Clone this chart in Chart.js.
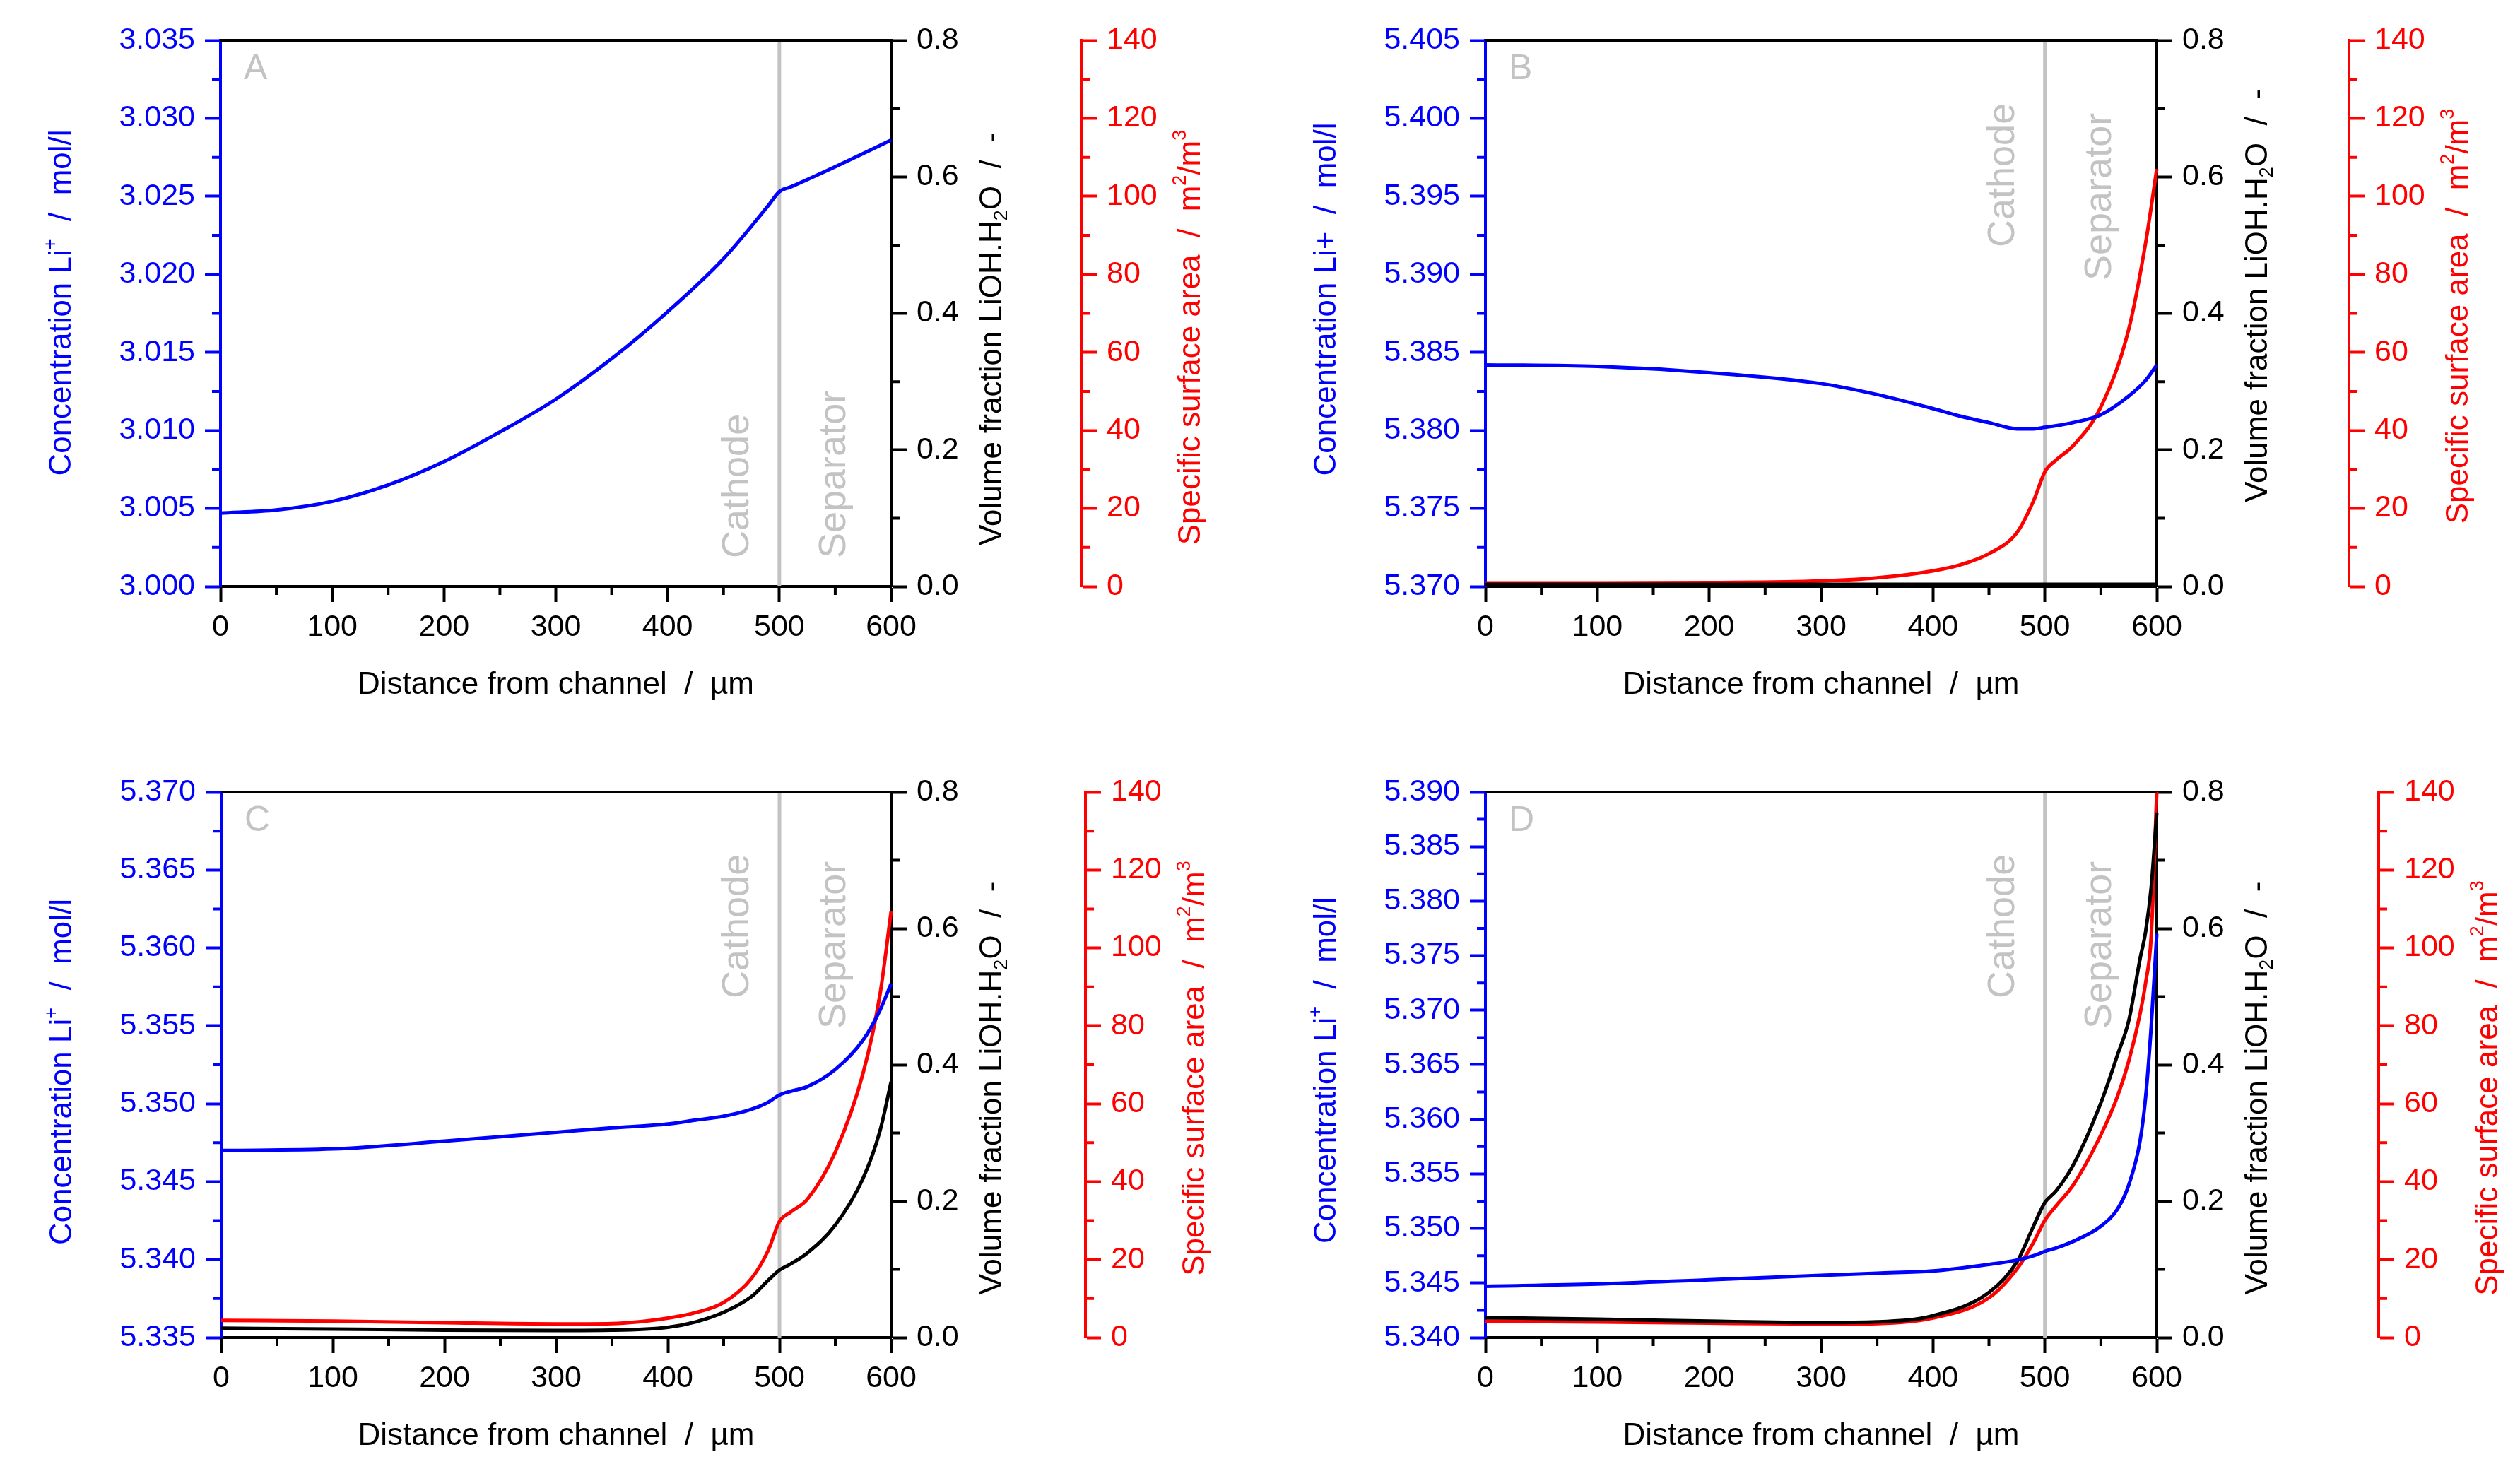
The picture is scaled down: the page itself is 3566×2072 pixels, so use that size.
<!DOCTYPE html>
<html>
<head>
<meta charset="utf-8">
<script src="https://cdn.jsdelivr.net/npm/chart.js@4.4.1/dist/chart.umd.min.js"></script>
<style>
  body { margin: 0; background: #fff; width: 3566px; height: 2072px; position: relative; overflow: hidden; }
  .panel { position: absolute; width: 1783px; height: 1036px; }
</style>
</head>
<body>
<div class="panel" style="left:0;top:0"><canvas id="chartA" width="1783" height="1036"></canvas></div>
<div class="panel" style="left:1783px;top:0"><canvas id="chartB" width="1783" height="1036"></canvas></div>
<div class="panel" style="left:0;top:1036px"><canvas id="chartC" width="1783" height="1036"></canvas></div>
<div class="panel" style="left:1783px;top:1036px"><canvas id="chartD" width="1783" height="1036"></canvas></div>
<script>
// distance from channel (um) and read-off values per panel
const xA = [0, 50, 100, 150, 200, 250, 300, 350, 400, 450, 490, 500, 510, 550, 600];
const concA = [3.0047, 3.0049, 3.00545, 3.0065, 3.0080, 3.0099, 3.0120, 3.0146, 3.0176, 3.0210, 3.0244, 3.0253, 3.0256, 3.0269, 3.0286];

const xB = [0, 100, 200, 300, 350, 400, 425, 450, 475, 490, 500, 510, 525, 550, 575, 590, 600];
const concB = [5.3842, 5.3841, 5.3837, 5.3830, 5.3823, 5.3814, 5.3809, 5.3805, 5.3801, 5.3801, 5.3802, 5.3803, 5.3805, 5.3810, 5.3822, 5.3832, 5.3842];
const volB = [0.003, 0.003, 0.003, 0.003, 0.003, 0.003, 0.003, 0.003, 0.003, 0.003, 0.003, 0.003, 0.003, 0.003, 0.003, 0.003, 0.003];
const areaB = [0.9, 0.9, 1.0, 1.4, 2.2, 4.0, 5.6, 8.4, 13.8, 22, 29.4, 32.4, 36, 46, 66, 88, 107];

const xC = [0, 100, 200, 300, 350, 400, 425, 450, 475, 490, 500, 510, 525, 550, 575, 590, 600];
const concC = [5.3470, 5.3471, 5.3476, 5.34817, 5.34845, 5.3487, 5.34895, 5.3492, 5.34965, 5.3501, 5.35056, 5.3508, 5.3511, 5.3522, 5.3541, 5.3560, 5.3577];
const volC = [0.0137, 0.0125, 0.011, 0.0103, 0.0108, 0.015, 0.023, 0.037, 0.060, 0.084, 0.099, 0.108, 0.124, 0.165, 0.234, 0.303, 0.375];
const areaC = [4.4, 4.2, 3.8, 3.5, 3.6, 5.0, 6.4, 9.0, 15.2, 22.4, 29.8, 32.2, 35.5, 47.6, 68, 88, 109.4];

const xD = [0, 100, 200, 300, 350, 400, 450, 475, 490, 500, 510, 525, 550, 565, 575, 585, 590, 595, 600];
const concD = [5.3447, 5.3449, 5.3453, 5.3457, 5.3459, 5.3461, 5.3467, 5.3471, 5.3475, 5.3479, 5.3482, 5.3488, 5.3502, 5.3518, 5.3540, 5.3580, 5.3620, 5.3685, 5.3770];
const volD = [0.029, 0.027, 0.024, 0.022, 0.023, 0.032, 0.066, 0.111, 0.164, 0.198, 0.215, 0.252, 0.344, 0.415, 0.465, 0.555, 0.595, 0.66, 0.77];
const areaD = [4.2, 4.0, 3.7, 3.5, 3.6, 5.0, 10.2, 17.6, 24.5, 30.1, 33.8, 39, 52, 62, 71, 83, 91, 103, 140];

// axis ranges
const xRange = [0, 600];
const concRangeA = [3.000, 3.035];
const concRangeB = [5.370, 5.405];
const concRangeC = [5.335, 5.370];
const concRangeD = [5.340, 5.390];
const volRange = [0, 0.8];
const areaRange = [0, 140];

const BLUE = '#0000ff', RED = '#ff0000', BLACK = '#000000', GREY = '#c3c3c3';
const FONT = "'Liberation Sans', Arial, Helvetica, sans-serif";
const W = 1783, H = 1036;

const titleLi = [['Concentration Li', ''], ['+', 'sup'], ['  /  mol/l', '']];
const titleLiPlain = [['Concentration Li+  /  mol/l', '']];
const titleVol = [['Volume fraction LiOH.H', ''], ['2', 'sub'], ['O  /  -', '']];
const titleArea = [['Specific surface area  /  m', ''], ['2', 'sup'], ['/m', ''], ['3', 'sup']];

// draw a rotated (bottom-to-top) title with super/subscripts, centred on cx, cy
function drawRich(ctx, parts, cx, cy, size, color) {
  const small = Math.round(size * 0.62);
  ctx.save();
  ctx.translate(cx, cy);
  ctx.rotate(-Math.PI / 2);
  ctx.fillStyle = color;
  ctx.textBaseline = 'middle';
  ctx.textAlign = 'left';
  let total = 0;
  for (const [t, m] of parts) {
    ctx.font = (m ? small : size) + 'px ' + FONT;
    total += ctx.measureText(t).width;
  }
  let x = -total / 2;
  for (const [t, m] of parts) {
    ctx.font = (m ? small : size) + 'px ' + FONT;
    const dy = m === 'sup' ? -size * 0.36 : m === 'sub' ? size * 0.28 : 0;
    ctx.fillText(t, x, dy);
    x += ctx.measureText(t).width;
  }
  ctx.restore();
}

function decor(lay) {
  return {
    id: 'decor',
    beforeDatasetsDraw(chart) {
      const { ctx, chartArea: a, scales } = chart;
      const x5 = scales.x.getPixelForValue(500);
      ctx.save();
      ctx.strokeStyle = GREY;
      ctx.lineWidth = 5;
      ctx.beginPath();
      ctx.moveTo(x5, a.top);
      ctx.lineTo(x5, a.bottom);
      ctx.stroke();

      ctx.fillStyle = GREY;
      ctx.font = '54px ' + FONT;
      ctx.textAlign = 'left';
      ctx.textBaseline = 'alphabetic';
      for (const [txt, dx, y] of [['Cathode', -44, lay.cath], ['Separator', 93, lay.sep]]) {
        ctx.save();
        ctx.translate(x5 + dx, y);
        ctx.rotate(-Math.PI / 2);
        ctx.fillText(txt, 0, 0);
        ctx.restore();
      }
      ctx.font = '50px ' + FONT;
      ctx.textBaseline = 'top';
      ctx.fillText(lay.letter, a.left + 33, a.top + 16);
      ctx.restore();
    },
    afterDraw(chart) {
      const { ctx, chartArea: a, scales } = chart;
      ctx.save();
      // top frame line
      ctx.strokeStyle = BLACK;
      ctx.lineWidth = 4;
      ctx.beginPath();
      ctx.moveTo(a.left, a.top);
      ctx.lineTo(a.right, a.top);
      ctx.stroke();

      // minor ticks, half way between the majors
      const minors = [
        [scales.x, 50, BLACK, 'bottom'],
        [scales.yc, 0.0025, BLUE, 'left'],
        [scales.yv, 0.1, BLACK, 'right'],
        [scales.ya, 10, RED, 'right']
      ];
      for (const [s, step, col, side] of minors) {
        ctx.strokeStyle = col;
        ctx.lineWidth = 4;
        ctx.beginPath();
        for (let v = s.min + step; v < s.max; v += 2 * step) {
          const p = s.getPixelForValue(v);
          if (side === 'bottom') { ctx.moveTo(p, s.top); ctx.lineTo(p, s.top + 12); }
          else if (side === 'left') { ctx.moveTo(s.right, p); ctx.lineTo(s.right - 12, p); }
          else { ctx.moveTo(s.left, p); ctx.lineTo(s.left + 12, p); }
        }
        ctx.stroke();
      }
      ctx.restore();

      const mid = (a.top + a.bottom) / 2;
      drawRich(ctx, lay.leftTitle, a.left - 224, mid + lay.off[0], 44, BLUE);
      drawRich(ctx, titleVol, a.right + 144, mid + lay.off[1], 44, BLACK);
      drawRich(ctx, titleArea, lay.red + 156, mid + lay.off[2], 44, RED);

      ctx.save();
      ctx.fillStyle = BLACK;
      ctx.font = '44px ' + FONT;
      ctx.textAlign = 'center';
      ctx.textBaseline = 'middle';
      ctx.fillText('Distance from channel  /  \u00b5m', (a.left + a.right) / 2, a.bottom + 140);
      ctx.restore();
    }
  };
}

function line(xs, ys, color, axis) {
  return {
    data: xs.map((x, i) => ({ x: x, y: ys[i] })),
    yAxisID: axis,
    borderColor: color,
    borderWidth: 5,
    pointRadius: 0,
    fill: false,
    clip: false,
    cubicInterpolationMode: 'monotone'
  };
}

function axisStyle(color) {
  return {
    grid: { drawOnChartArea: false, tickLength: 22, tickWidth: 4, color: color },
    border: { color: color, width: 4 }
  };
}

function makePanel(id, datasets, concRange, lay) {
  const tickFont = { family: FONT, size: 43 };
  new Chart(document.getElementById(id), {
    type: 'line',
    data: { datasets: datasets },
    options: {
      responsive: false,
      devicePixelRatio: 1,
      animation: false,
      layout: { padding: { top: lay.top, left: 0, right: 0, bottom: 0 } },
      plugins: { legend: { display: false }, tooltip: { enabled: false } },
      scales: {
        x: {
          type: 'linear', min: xRange[0], max: xRange[1],
          ticks: { stepSize: 100, color: BLACK, font: tickFont, padding: 10, maxRotation: 0 },
          ...axisStyle(BLACK),
          afterFit: (s) => { s.height = H - lay.bottom; }
        },
        yc: {
          type: 'linear', position: 'left', min: concRange[0], max: concRange[1],
          ticks: { stepSize: 0.005, color: BLUE, font: tickFont, padding: 14,
                   callback: (v) => v.toFixed(3) },
          ...axisStyle(BLUE),
          afterFit: (s) => { s.width = lay.left; }
        },
        yv: {
          type: 'linear', position: 'right', weight: 1, min: volRange[0], max: volRange[1],
          ticks: { stepSize: 0.2, color: BLACK, font: tickFont, padding: 14, callback: (v) => v.toFixed(1) },
          ...axisStyle(BLACK),
          afterFit: (s) => { s.width = lay.red - lay.right; }
        },
        ya: {
          type: 'linear', position: 'right', weight: 2, min: areaRange[0], max: areaRange[1],
          ticks: { stepSize: 20, color: RED, font: tickFont, padding: 14 },
          ...axisStyle(RED),
          afterFit: (s) => { s.width = W - lay.red; }
        }
      }
    },
    plugins: [decor(lay)]
  });
}

makePanel('chartA', [line(xA, concA, BLUE, 'yc')], concRangeA,
  { letter: 'A', left: 312, right: 1261, red: 1530, top: 57, bottom: 830,
    off: [-15, 36, 34], cath: 790, sep: 790, leftTitle: titleLi });

makePanel('chartB', [line(xB, concB, BLUE, 'yc'), line(xB, volB, BLACK, 'yv'), line(xB, areaB, RED, 'ya')], concRangeB,
  { letter: 'B', left: 319, right: 1269, red: 1541, top: 57, bottom: 830,
    off: [-20, -25, 4], cath: 350, sep: 397, leftTitle: titleLiPlain });

makePanel('chartC', [line(xC, concC, BLUE, 'yc'), line(xC, volC, BLACK, 'yv'), line(xC, areaC, RED, 'ya')], concRangeC,
  { letter: 'C', left: 313, right: 1261, red: 1536, top: 85, bottom: 857,
    off: [10, 33, 5], cath: 377, sep: 420, leftTitle: titleLi });

makePanel('chartD', [line(xD, concD, BLUE, 'yc'), line(xD, volD, BLACK, 'yv'), line(xD, areaD, RED, 'ya')], concRangeD,
  { letter: 'D', left: 319, right: 1269, red: 1583, top: 85, bottom: 857,
    off: [8, 33, 33], cath: 377, sep: 420, leftTitle: titleLi });
</script>
</body>
</html>
